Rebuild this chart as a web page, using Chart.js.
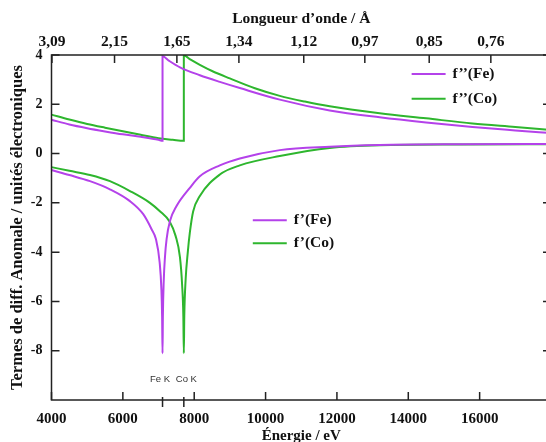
<!DOCTYPE html>
<html lang="fr">
<head>
<meta charset="utf-8">
<title>Termes de diffusion anomale - Fe / Co</title>
<script src="https://cdn.jsdelivr.net/npm/chart.js@4.4.1/dist/chart.umd.min.js"></script>
<style>
    html, body { margin: 0; padding: 0; background: #fff; overflow: hidden; }
    #anomalous-chart { display: block; }
</style>
</head>
<body>
<canvas id="anomalous-chart" width="560" height="446"></canvas>
<script>
/**
 * Anomalous scattering terms f' and f'' of Fe and Co around their K edges
 */

// Axis ticks
const energyTicks = [4000, 6000, 8000, 10000, 12000, 14000, 16000];
const wavelengthLabels = ['3,09', '2,15', '1,65', '1,34', '1,12', '0,97', '0,85', '0,76'];
const yTicks = [-8, -6, -4, -2, 0, 2, 4];

// Absorption edges (eV)
const edgeEnergies = [7112, 7709];
const edgeLabels = ['Fe K', 'Co K'];

// f''(Fe)
const fppFeEnergy = [4000, 4500, 5000, 5500, 6000, 6500, 7000, 7112, 7112, 7300, 7600, 8158, 8718, 9278, 10398, 11798, 13198, 14500, 15800, 17000, 18000];
const fppFe = [1.37, 1.18, 1.03, 0.90, 0.78, 0.68, 0.56, 0.52, 3.95, 3.76, 3.50, 3.18, 2.91, 2.66, 2.19, 1.75, 1.47, 1.26, 1.08, 0.94, 0.83];

// f''(Co)
const fppCoEnergy = [4000, 4500, 5000, 5500, 6000, 6500, 7000, 7400, 7709, 7709, 7900, 8158, 8500, 8998, 9700, 10398, 11100, 11798, 13198, 14500, 15800, 17000, 18000];
const fppCo = [1.58, 1.38, 1.20, 1.05, 0.91, 0.76, 0.62, 0.56, 0.52, 3.98, 3.81, 3.60, 3.35, 3.05, 2.65, 2.34, 2.11, 1.92, 1.64, 1.43, 1.22, 1.08, 0.96];

// f'(Fe)
const fpFeEnergy = [4000, 4500, 5078, 5638, 6198, 6571, 6805, 6926, 7030, 7080, 7100, 7112, 7122, 7145, 7180, 7226, 7318, 7505, 7878, 8158, 8718, 9278, 10398, 11798, 13198, 15500, 18000];
const fpFe = [-0.67, -0.87, -1.12, -1.45, -1.93, -2.46, -3.07, -3.47, -4.4, -5.5, -6.6, -8.1, -6.6, -5.2, -4.2, -3.47, -2.75, -2.13, -1.39, -0.92, -0.48, -0.2, 0.14, 0.28, 0.35, 0.38, 0.39];

// f'(Co)
const fpCoEnergy = [4000, 4500, 5078, 5638, 6198, 6758, 7030, 7318, 7480, 7600, 7660, 7695, 7709, 7722, 7760, 7820, 7878, 7970, 8158, 8718, 9278, 10398, 11798, 13198, 15500, 18000];
const fpCo = [-0.55, -0.70, -0.87, -1.12, -1.52, -2.0, -2.33, -2.78, -3.35, -4.2, -5.3, -6.6, -8.1, -6.6, -5.1, -4.0, -3.2, -2.35, -1.72, -0.85, -0.48, -0.1, 0.23, 0.34, 0.37, 0.38];

const FE_COLOR = 'rgb(180, 66, 234)';
const CO_COLOR = 'rgb(46, 182, 46)';
const TEXT_COLOR = '#111';
const FRAME_COLOR = '#222';
const TICK_LEN = 8;
const HC = 12398.4; // eV.Å, wavelength -> energy

const SERIF = "'Liberation Serif', 'Times New Roman', serif";

/**
 * Build {x, y} points from two parallel arrays
 */
function toPoints(energies, values) {
    return energies.map((e, i) => ({ x: e, y: values[i] }));
}

function lineDataset(label, energies, values, color) {
    return {
        label: label,
        data: toPoints(energies, values),
        borderColor: color,
        backgroundColor: color,
        borderWidth: 2,
        pointRadius: 0,
        cubicInterpolationMode: 'monotone',
        fill: false
    };
}

/**
 * Legend blocks: dataset index, line start / end (eV), y value
 */
const legendItems = [
    { index: 0, x0: 14094, x1: 15046, y: 3.23 },
    { index: 1, x0: 14094, x1: 15046, y: 2.22 },
    { index: 2, x0: 9642, x1: 10594, y: -2.71 },
    { index: 3, x0: 9642, x1: 10594, y: -3.64 }
];

/**
 * Frame, inward ticks, edge markers and legends
 */
const framePlugin = {
    id: 'frameTicks',
    afterDatasetsDraw(chart) {
        const { ctx, chartArea: a, scales } = chart;
        const x = scales.x;
        const y = scales.y;

        ctx.save();
        ctx.strokeStyle = FRAME_COLOR;
        ctx.lineWidth = 1.5;
        ctx.strokeRect(a.left, a.top, a.right - a.left, a.bottom - a.top);

        ctx.beginPath();
        energyTicks.forEach(v => {
            const px = x.getPixelForValue(v);
            ctx.moveTo(px, a.bottom);
            ctx.lineTo(px, a.bottom - TICK_LEN);
        });
        wavelengthLabels.forEach(l => {
            const px = x.getPixelForValue(HC / parseFloat(l.replace(',', '.')));
            ctx.moveTo(px, a.top);
            ctx.lineTo(px, a.top + TICK_LEN);
        });
        yTicks.forEach(v => {
            const py = y.getPixelForValue(v);
            ctx.moveTo(a.left, py);
            ctx.lineTo(a.left + TICK_LEN, py);
            ctx.moveTo(a.right, py);
            ctx.lineTo(a.right - TICK_LEN, py);
        });
        edgeEnergies.forEach(e => {
            const px = x.getPixelForValue(e);
            ctx.moveTo(px, a.bottom - 3);
            ctx.lineTo(px, a.bottom + 7);
        });
        ctx.stroke();

        // Edge labels
        ctx.font = "9.5px 'Liberation Sans', Arial, sans-serif";
        ctx.fillStyle = '#333';
        ctx.textBaseline = 'middle';
        ctx.textAlign = 'center';
        edgeEnergies.forEach((e, i) => {
            const shift = i === 0 ? -2.5 : 2.5;
            ctx.fillText(edgeLabels[i], x.getPixelForValue(e) + shift, y.getPixelForValue(-9.18));
        });

        // Legends
        ctx.font = 'bold 15.5px ' + SERIF;
        ctx.textAlign = 'left';
        ctx.fillStyle = TEXT_COLOR;
        legendItems.forEach(item => {
            const ds = chart.data.datasets[item.index];
            const py = y.getPixelForValue(item.y);
            const px0 = x.getPixelForValue(item.x0);
            const px1 = x.getPixelForValue(item.x1);
            ctx.strokeStyle = ds.borderColor;
            ctx.lineWidth = 2;
            ctx.beginPath();
            ctx.moveTo(px0, py);
            ctx.lineTo(px1, py);
            ctx.stroke();
            ctx.fillText(ds.label, px1 + 7, py);
        });
        ctx.restore();
    }
};

function renderChart() {
    const canvas = document.getElementById('anomalous-chart');
    const ctx = canvas.getContext('2d');

    const tickFont = { family: SERIF, size: 15, weight: 'bold' };

    new Chart(ctx, {
        type: 'line',
        data: {
            datasets: [
                lineDataset('f\u2019\u2019(Fe)', fppFeEnergy, fppFe, FE_COLOR),
                lineDataset('f\u2019\u2019(Co)', fppCoEnergy, fppCo, CO_COLOR),
                lineDataset('f\u2019(Fe)', fpFeEnergy, fpFe, FE_COLOR),
                lineDataset('f\u2019(Co)', fpCoEnergy, fpCo, CO_COLOR)
            ]
        },
        options: {
            responsive: false,
            animation: false,
            devicePixelRatio: 1,
            layout: { padding: { left: 0, top: 0, bottom: 0, right: 9 } },
            plugins: {
                legend: { display: false },
                tooltip: { enabled: false }
            },
            scales: {
                x: {
                    type: 'linear',
                    position: 'bottom',
                    min: 4000,
                    max: 18000,
                    grid: { display: false, drawTicks: false },
                    border: { display: false },
                    afterBuildTicks: s => { s.ticks = energyTicks.map(v => ({ value: v })); },
                    afterFit: s => { s.height = 46; },
                    ticks: {
                        autoSkip: false,
                        maxRotation: 0,
                        padding: 10,
                        color: TEXT_COLOR,
                        font: tickFont,
                        callback: v => String(v)
                    },
                    title: {
                        display: true,
                        text: '\u00c9nergie / eV',
                        color: TEXT_COLOR,
                        font: { family: SERIF, size: 15, weight: 'bold' },
                        padding: { top: 0, bottom: 1 }
                    }
                },
                x2: {
                    type: 'linear',
                    position: 'top',
                    min: 4000,
                    max: 18000,
                    grid: { display: false, drawTicks: false },
                    border: { display: false },
                    afterBuildTicks: s => {
                        s.ticks = wavelengthLabels.map(l => ({ value: HC / parseFloat(l.replace(',', '.')) }));
                    },
                    afterFit: s => { s.height = 55; },
                    ticks: {
                        autoSkip: false,
                        maxRotation: 0,
                        padding: 4,
                        color: TEXT_COLOR,
                        font: { family: SERIF, size: 15.5, weight: 'bold' },
                        callback: (v, i) => wavelengthLabels[i]
                    },
                    title: {
                        display: true,
                        text: 'Longueur d\u2019onde / \u00c5',
                        color: TEXT_COLOR,
                        font: { family: SERIF, size: 15.5, weight: 'bold' },
                        padding: { top: 10, bottom: 0 }
                    }
                },
                y: {
                    type: 'linear',
                    position: 'left',
                    min: -10,
                    max: 4,
                    grid: { display: false, drawTicks: false },
                    border: { display: false },
                    afterBuildTicks: s => { s.ticks = yTicks.map(v => ({ value: v })); },
                    afterFit: s => { s.width = 51.5; },
                    ticks: {
                        padding: 9,
                        color: TEXT_COLOR,
                        font: { family: SERIF, size: 14, weight: 'bold' },
                        callback: v => String(v)
                    },
                    title: {
                        display: true,
                        text: 'Termes de diff. Anomale / unit\u00e9s \u00e9lectroniques',
                        color: TEXT_COLOR,
                        font: { family: SERIF, size: 16.5, weight: 'bold' },
                        padding: { top: 8, bottom: 0 }
                    }
                }
            }
        },
        plugins: [framePlugin]
    });
}

document.addEventListener('DOMContentLoaded', renderChart);
</script>
</body>
</html>
